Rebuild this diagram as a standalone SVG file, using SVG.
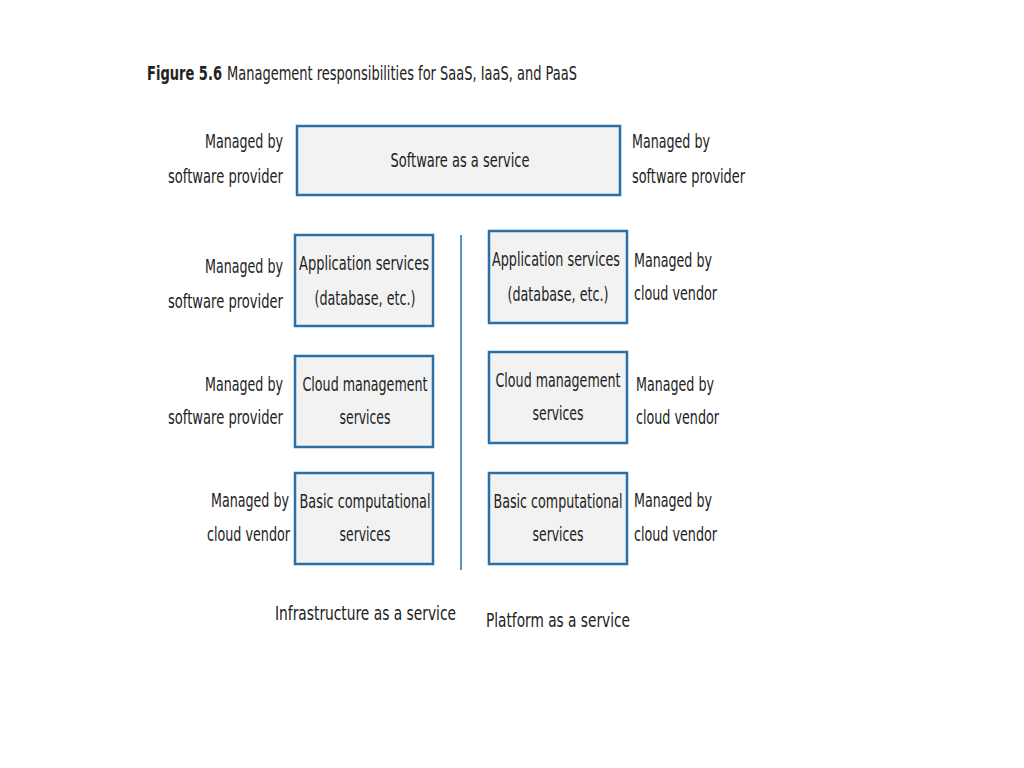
<svg xmlns="http://www.w3.org/2000/svg" width="1024" height="768" viewBox="0 0 1024 768">
<style>
text{font-family:"DejaVu Sans Condensed","DejaVu Sans",sans-serif;font-size:19px;fill:#222}
.b{fill:#f2f2f2;stroke:#2a6fa5;stroke-width:2.5}
.m{text-anchor:middle}
.r{text-anchor:end}
</style>
<rect width="1024" height="768" fill="#fff"/>
<text x="147" y="80" font-weight="bold" textLength="75" lengthAdjust="spacingAndGlyphs">Figure 5.6</text>
<text x="227" y="80" font-size="17" textLength="350" lengthAdjust="spacingAndGlyphs">Management responsibilities for SaaS, IaaS, and PaaS</text>
<g id="saas"><rect class="b" x="297" y="126" width="323" height="69"/><text class="m" x="460" y="167" textLength="139" lengthAdjust="spacingAndGlyphs">Software as a service</text></g>
<text class="r" x="283" y="148" textLength="78" lengthAdjust="spacingAndGlyphs">Managed by</text><text class="r" x="283" y="183" textLength="115" lengthAdjust="spacingAndGlyphs">software provider</text>
<text x="632" y="148" textLength="78" lengthAdjust="spacingAndGlyphs">Managed by</text><text x="632" y="183" textLength="113" lengthAdjust="spacingAndGlyphs">software provider</text>
<g id="connectors"><line x1="461" y1="235" x2="461" y2="570" stroke="#2a6fa5" stroke-width="1.5"/></g>
<g id="l1"><rect class="b" x="295" y="235" width="138" height="91"/><text class="m" x="364" y="270" textLength="130" lengthAdjust="spacingAndGlyphs">Application services</text><text class="m" x="365" y="305" textLength="101" lengthAdjust="spacingAndGlyphs">(database, etc.)</text></g>
<g id="l2"><rect class="b" x="295" y="356" width="138" height="91"/><text class="m" x="365" y="391" textLength="125" lengthAdjust="spacingAndGlyphs">Cloud management</text><text class="m" x="365" y="424" textLength="51" lengthAdjust="spacingAndGlyphs">services</text></g>
<g id="l3"><rect class="b" x="295" y="473" width="138" height="91"/><text class="m" x="365" y="508" textLength="131" lengthAdjust="spacingAndGlyphs">Basic computational</text><text class="m" x="365" y="541" textLength="51" lengthAdjust="spacingAndGlyphs">services</text></g>
<g id="r1"><rect class="b" x="489" y="231" width="138" height="92"/><text class="m" x="556" y="266" textLength="128" lengthAdjust="spacingAndGlyphs">Application services</text><text class="m" x="558" y="301" textLength="101" lengthAdjust="spacingAndGlyphs">(database, etc.)</text></g>
<g id="r2"><rect class="b" x="489" y="352" width="138" height="91"/><text class="m" x="558" y="387" textLength="125" lengthAdjust="spacingAndGlyphs">Cloud management</text><text class="m" x="558" y="420" textLength="51" lengthAdjust="spacingAndGlyphs">services</text></g>
<g id="r3"><rect class="b" x="489" y="473" width="138" height="91"/><text class="m" x="558" y="508" textLength="129" lengthAdjust="spacingAndGlyphs">Basic computational</text><text class="m" x="558" y="541" textLength="51" lengthAdjust="spacingAndGlyphs">services</text></g>
<text class="r" x="283" y="273" textLength="78" lengthAdjust="spacingAndGlyphs">Managed by</text><text class="r" x="283" y="308" textLength="115" lengthAdjust="spacingAndGlyphs">software provider</text>
<text class="r" x="283" y="391" textLength="78" lengthAdjust="spacingAndGlyphs">Managed by</text><text class="r" x="283" y="424" textLength="115" lengthAdjust="spacingAndGlyphs">software provider</text>
<text class="r" x="289" y="507" textLength="78" lengthAdjust="spacingAndGlyphs">Managed by</text><text class="r" x="290" y="541" textLength="83" lengthAdjust="spacingAndGlyphs">cloud vendor</text>
<text x="634" y="267" textLength="78" lengthAdjust="spacingAndGlyphs">Managed by</text><text x="634" y="300" textLength="83" lengthAdjust="spacingAndGlyphs">cloud vendor</text>
<text x="636" y="391" textLength="78" lengthAdjust="spacingAndGlyphs">Managed by</text><text x="636" y="424" textLength="83" lengthAdjust="spacingAndGlyphs">cloud vendor</text>
<text x="634" y="507" textLength="78" lengthAdjust="spacingAndGlyphs">Managed by</text><text x="634" y="541" textLength="83" lengthAdjust="spacingAndGlyphs">cloud vendor</text>
<text x="275" y="620" textLength="181" lengthAdjust="spacingAndGlyphs">Infrastructure as a service</text>
<text x="486" y="627" textLength="144" lengthAdjust="spacingAndGlyphs">Platform as a service</text>
</svg>
